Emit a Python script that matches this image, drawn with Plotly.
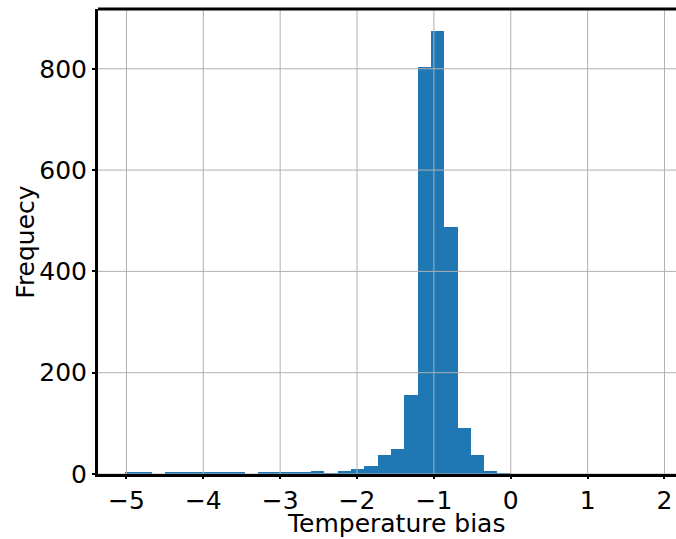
#!/usr/bin/env python3

import plotly.graph_objects as go

# histogram of temperature bias, 40 equal bins
bin_start = -5.02
bin_width = 0.1731
counts = [4, 2, 0, 2, 2, 2, 2, 2, 4, 0,
          2, 2, 2, 2, 5, 1, 5, 10, 16, 37,
          49, 156, 803, 874, 487, 91, 37, 5, 1, 0,
          0, 0, 0, 0, 0, 0, 0, 0, 0, 0]

x_ticks = [-5, -4, -3, -2, -1, 0, 1, 2]
y_ticks = [0, 200, 400, 600, 800]


def main():
    centers = [bin_start + (i + 0.5) * bin_width for i in range(len(counts))]

    fig = go.Figure()
    fig.add_trace(go.Bar(
        x=centers, y=counts, width=bin_width,
        marker=dict(color="#1f77b4", line=dict(width=0)),
        hoverinfo="x+y",
    ))

    # matplotlib draws the grid on top of the bars here
    for v in x_ticks:
        fig.add_vline(x=v, line=dict(color="#b0b0b0", width=1), layer="above")
    for v in y_ticks:
        fig.add_hline(y=v, line=dict(color="#b0b0b0", width=1), layer="above")
    # top spine only (the right one is cropped off in the reference)
    fig.add_shape(type="line", xref="paper", yref="paper", x0=0, x1=1, y0=1, y1=1,
                  line=dict(color="black", width=3), layer="above")

    font = dict(family="DejaVu Sans", size=25, color="black")
    fig.update_layout(
        width=676, height=539,
        margin=dict(l=98, r=0, t=9, b=65, autoexpand=False),
        plot_bgcolor="white", paper_bgcolor="white",
        font=font, bargap=0, showlegend=False,
    )
    # axis titles as annotations so they sit where the reference has them
    fig.add_annotation(text="Temperature bias", xref="paper", yref="paper",
                       x=0.515, y=-0.106, yanchor="middle", showarrow=False, font=font)
    fig.add_annotation(text="Frequecy", xref="paper", yref="paper", textangle=-90,
                       x=-0.126, y=0.5, xanchor="center", showarrow=False, font=font)
    fig.update_xaxes(
        range=[-5.37, 2.15], tickvals=x_ticks, tickfont=font,
        showgrid=False, automargin=False, ticklabeloverflow="allow",
        showline=True, linecolor="black", linewidth=3, mirror=False,
        ticks="outside", ticklen=2, tickwidth=2, tickcolor="black",
        zeroline=False, layer="above traces",
    )
    fig.update_yaxes(
        range=[0, 918], tickvals=y_ticks, tickfont=font,
        showgrid=False, automargin=False,
        showline=True, linecolor="black", linewidth=3, mirror=False,
        ticks="outside", ticklen=3, tickwidth=2, tickcolor="black",
        zeroline=False, layer="above traces",
    )
    # no page margin and no scrollbars, so the figure fills the window exactly
    fig.write_html(
        "out.html", config={"displayModeBar": False},
        post_script="document.body.style.margin='0';"
                    "document.body.style.overflow='hidden';"
                    "document.documentElement.style.overflow='hidden';",
    )


if __name__ == '__main__':
    main()
